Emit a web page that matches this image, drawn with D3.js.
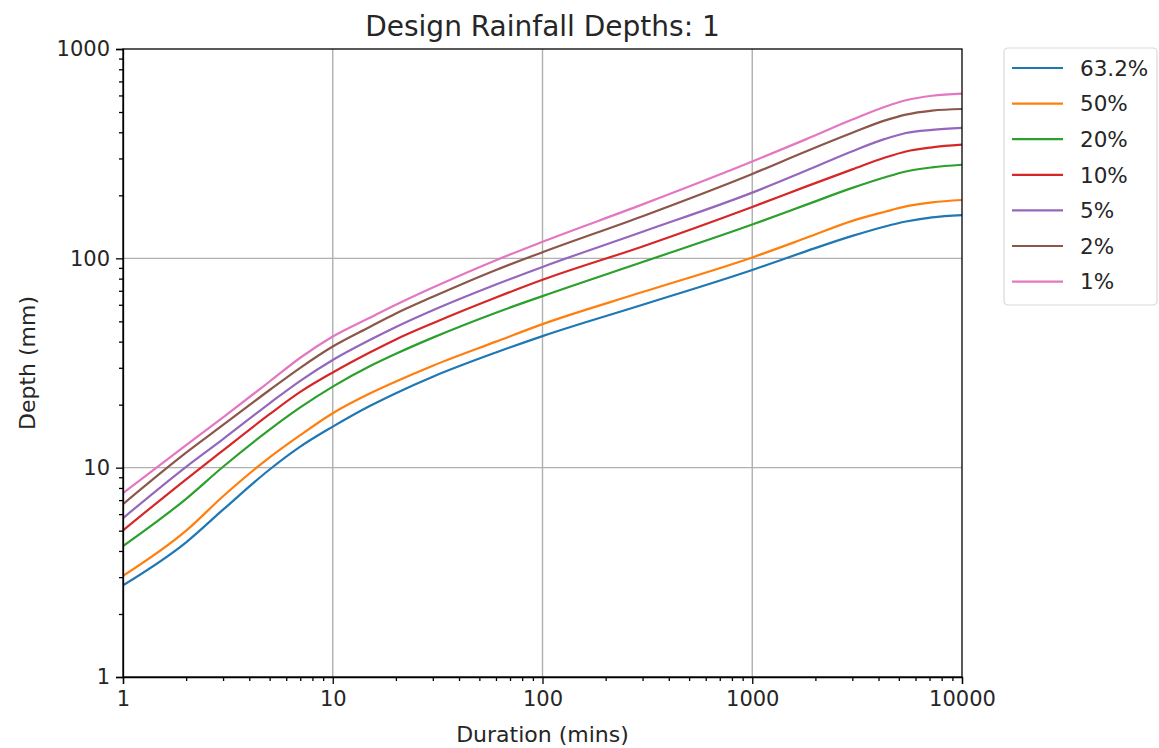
<html>
<head>
<meta charset="utf-8">
<title>Design Rainfall Depths</title>
<style>
  body { margin: 0; background: #fff; }
  text { font-family: "DejaVu Sans", sans-serif; fill: #262626; }
  .axis path, .axis line { stroke: #000; }
</style>
<script src="https://d3js.org/d3.v7.min.js"></script>
</head>
<body>
<svg width="1159" height="748"></svg>
<script>
// durations (mins)
var durations = [1, 2, 3, 5, 7, 10, 15, 20, 30, 60, 100, 300, 1000, 1800, 3000, 4300, 5400, 7200, 10000];

var seriesNames = ["63.2%", "50%", "20%", "10%", "5%", "2%", "1%"];

// depths (mm), one value per duration
var aep632 = [2.74, 4.4, 6.3, 9.8, 12.6, 15.7, 19.7, 22.7, 27.2, 35.5, 42.5, 60, 88, 108, 128, 142, 150, 157, 161];
var aep50  = [3.04, 5.0, 7.3, 11.2, 14.3, 18.2, 22.6, 25.8, 30.7, 40, 48.5, 69, 101, 125, 151, 167, 177, 185, 190];
var aep20  = [4.22, 7.1, 10.1, 15.2, 19.4, 24.4, 30.5, 35, 41.8, 55, 66, 96, 145, 180, 217, 244, 260, 272, 280];
var aep10  = [5.02, 8.8, 12.1, 18, 23, 28.5, 35.5, 41, 49, 65, 79, 114, 176, 220, 266, 303, 324, 339, 349];
var aep5   = [5.74, 10.1, 13.7, 20.3, 26, 32.7, 40.7, 47, 56.5, 75, 91, 134, 206, 262, 325, 372, 397, 411, 420];
var aep2   = [6.7, 11.8, 16, 23.5, 30, 37.9, 47, 54.5, 65.5, 88, 107, 159, 253, 324, 398, 456, 486, 508, 517];
var aep1   = [7.56, 12.8, 17.4, 25.8, 33.5, 42.3, 52, 60, 72.5, 98, 120, 181, 290, 370, 460, 530, 569, 598, 612];

var xTicks = [1, 10, 100, 1000, 10000];
var yTicks = [1, 10, 100, 1000];

var colors = ["#1f77b4", "#ff7f0e", "#2ca02c", "#d62728", "#9467bd", "#8c564b", "#e377c2"];

var allSeries = [aep632, aep50, aep20, aep10, aep5, aep2, aep1];

var svg = d3.select("svg"),
    margin = {top: 49, right: 197, bottom: 71, left: 123},
    width = +svg.attr("width") - margin.left - margin.right,
    height = +svg.attr("height") - margin.top - margin.bottom,
    g = svg.append("g").attr("transform", `translate(${margin.left},${margin.top})`);

var x = d3.scaleLog().domain([1, 10000]).range([0, width]);
var y = d3.scaleLog().domain([1, 1000]).range([height, 0]);

// minor tick values
function minors(lo, hi) {
  var out = [];
  for (var d = lo; d < hi; d *= 10)
    for (var k = 2; k <= 9; k++) out.push(d * k);
  return out;
}

// grid
g.append("g").selectAll("line").data(xTicks.slice(1, -1)).enter().append("line")
  .attr("x1", d => x(d)).attr("x2", d => x(d))
  .attr("y1", 0).attr("y2", height)
  .attr("stroke", "#b0b0b0").attr("stroke-width", 1.4);
g.append("g").selectAll("line").data(yTicks.slice(1, -1)).enter().append("line")
  .attr("y1", d => y(d)).attr("y2", d => y(d))
  .attr("x1", 0).attr("x2", width)
  .attr("stroke", "#b0b0b0").attr("stroke-width", 1.4);

// lines
g.append("clipPath").attr("id", "clip").append("rect")
  .attr("width", width).attr("height", height);

var line = d3.line()
  .x((d, i) => x(durations[i]))
  .y(d => y(d))
  .curve(d3.curveMonotoneX);

g.append("g").attr("clip-path", "url(#clip)")
  .selectAll("path").data(allSeries).enter().append("path")
  .attr("d", line)
  .attr("fill", "none")
  .attr("stroke", (d, i) => colors[i])
  .attr("stroke-width", 2.2);

// axes
var xAxis = g.append("g").attr("class", "axis")
  .attr("transform", `translate(0,${height})`)
  .call(d3.axisBottom(x).tickValues(xTicks).tickFormat(d3.format("d")).tickSize(7).tickPadding(7));
xAxis.selectAll("text").style("font-size", "21px").attr("fill", "#262626");
g.append("g").attr("class", "axis")
  .attr("transform", `translate(0,${height})`)
  .call(d3.axisBottom(x).tickValues(minors(1, 10000)).tickFormat("").tickSize(4))
  .select(".domain").remove();

var yAxis = g.append("g").attr("class", "axis")
  .call(d3.axisLeft(y).tickValues(yTicks).tickFormat(d3.format("d")).tickSize(7).tickPadding(6));
yAxis.selectAll("text").style("font-size", "21px").attr("fill", "#262626");
g.append("g").attr("class", "axis")
  .call(d3.axisLeft(y).tickValues(minors(1, 1000)).tickFormat("").tickSize(4))
  .select(".domain").remove();

svg.selectAll(".axis line, .axis path").attr("stroke-width", 1.3);

// frame
g.append("rect").attr("width", width).attr("height", height)
  .attr("fill", "none").attr("stroke", "#000").attr("stroke-width", 1.3);

// title and labels
svg.append("text").attr("x", margin.left + width / 2).attr("y", 36)
  .attr("text-anchor", "middle").style("font-size", "28px")
  .text("Design Rainfall Depths: 1");

svg.append("text").attr("x", margin.left + width / 2).attr("y", 742)
  .attr("text-anchor", "middle").style("font-size", "22px")
  .text("Duration (mins)");

svg.append("text")
  .attr("transform", `translate(35,${margin.top + height / 2}) rotate(-90)`)
  .attr("text-anchor", "middle").style("font-size", "22px")
  .text("Depth (mm)");

// legend
var legend = svg.append("g").attr("transform", "translate(1004,48)");
legend.append("rect").attr("width", 153).attr("height", 257).attr("rx", 4)
  .attr("fill", "#fff").attr("stroke", "#d9d9d9").attr("stroke-width", 1.2);

var items = legend.selectAll("g.item").data(seriesNames).enter().append("g")
  .attr("class", "item")
  .attr("transform", (d, i) => `translate(0,${20 + i * 35.6})`);
items.append("line").attr("x1", 8).attr("x2", 59)
  .attr("stroke", (d, i) => colors[i]).attr("stroke-width", 2.2);
items.append("text").attr("x", 76).attr("dy", "0.36em")
  .style("font-size", "21.5px").text(d => d);
</script>
</body>
</html>
